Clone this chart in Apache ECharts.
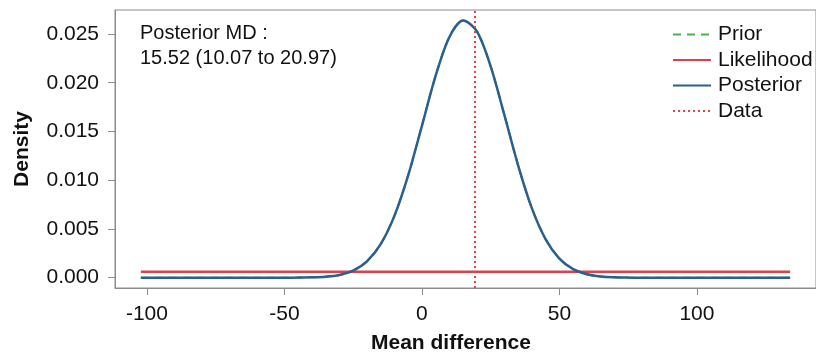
<!DOCTYPE html>
<html>
<head>
<meta charset="utf-8">
<script src="https://cdn.jsdelivr.net/npm/echarts@6/dist/echarts.min.js"></script>
<style>
html,body{margin:0;padding:0;background:#fff;}
#chart{width:816px;height:356px;}
</style>
</head>
<body>
<div id="chart"></div>
<script>
// Mean difference grid (x) and densities
const xValues = [-102.2, -50, -45, -40, -35, -30, -25, -20, -15, -10, -5, 0, 5, 10, 15, 20, 25, 30, 35, 40, 45, 50, 55, 60, 65, 70, 75, 80, 133.9];
const posteriorDensity = [0, 0.000002, 0.000009, 0.000031, 0.000099, 0.000282, 0.000724, 0.001666, 0.003433, 0.006342, 0.010497, 0.015578, 0.020719, 0.024695, 0.026384, 0.025264, 0.021683, 0.01668, 0.0115, 0.007107, 0.003936, 0.001954, 0.000869, 0.000347, 0.000124, 0.00004, 0.00001, 0.000002, 0];
const priorDensity = [0, 0.000002, 0.000009, 0.000031, 0.000099, 0.000282, 0.000724, 0.001666, 0.003433, 0.006342, 0.010497, 0.015578, 0.020719, 0.024695, 0.026384, 0.025264, 0.021683, 0.01668, 0.0115, 0.007107, 0.003936, 0.001954, 0.000869, 0.000347, 0.000124, 0.00004, 0.00001, 0.000002, 0];
const likelihoodX = [-102.2, 133.9];
const likelihoodDensity = [0.0006, 0.0006];
const dataMD = 19.3;
const xTicks = [-100, -50, 0, 50, 100];
const yTicks = [0, 0.005, 0.010, 0.015, 0.020, 0.025];
const xRange = [-111.6, 143.3];
const yRange = [-0.00106, 0.02746];
const seriesNames = ['Prior', 'Likelihood', 'Posterior', 'Data'];
const annotationLines = ['Posterior MD :', '15.52 (10.07 to 20.97)'];

const pair = (xs, ys) => xs.map((x, i) => [x, ys[i]]);

const FONT = '"Liberation Sans", Arial, sans-serif';
const chart = echarts.init(document.getElementById('chart'), null, {renderer: 'canvas'});
chart.setOption({
  animation: false,
  backgroundColor: '#ffffff',
  grid: {left: 115, top: 10, right: -3, bottom: 68, show: true, borderColor: '#8c8c8c', borderWidth: 1, backgroundColor: 'transparent'},
  legend: {
    data: seriesNames,
    orient: 'vertical',
    left: 667,
    top: 19,
    itemWidth: 38,
    itemHeight: 14,
    itemGap: 4.5,
    itemStyle: {opacity: 0},
    textStyle: {fontFamily: FONT, fontSize: 21, color: '#111', padding: [0, 0, 0, 2]},
    selectedMode: false
  },
  xAxis: {
    type: 'value',
    min: xRange[0],
    max: xRange[1],
    splitLine: {show: false},
    axisLine: {show: true, onZero: false, lineStyle: {color: '#8c8c8c', width: 1}},
    axisTick: {show: true, length: 7, customValues: xTicks, lineStyle: {color: '#8c8c8c'}},
    axisLabel: {customValues: xTicks, margin: 16, fontFamily: FONT, fontSize: 21, color: '#111'}
  },
  yAxis: {
    type: 'value',
    min: yRange[0],
    max: yRange[1],
    name: 'Density',
    nameLocation: 'middle',
    nameGap: 82,
    nameTextStyle: {fontFamily: FONT, fontSize: 21, fontWeight: 'bold', color: '#111'},
    splitLine: {show: false},
    axisLine: {show: true, onZero: false, lineStyle: {color: '#8c8c8c', width: 1}},
    axisTick: {show: true, length: 7, customValues: yTicks, lineStyle: {color: '#8c8c8c'}},
    axisLabel: {customValues: yTicks, margin: 16, fontFamily: FONT, fontSize: 21, color: '#111',
      formatter: v => v.toFixed(3)}
  },
  graphic: [
    {type: 'text', left: 140, top: 21, style: {text: annotationLines.join('\n'), font: '20px "Liberation Sans", Arial, sans-serif', fill: '#111', lineHeight: 25}},
    {type: 'text', left: 371, top: 333, style: {text: 'Mean difference', font: 'bold 21px "Liberation Sans", Arial, sans-serif', fill: '#111'}}
  ],
  series: [
    {name: 'Prior', type: 'line', data: pair(xValues, priorDensity), smooth: 0.3, showSymbol: false, symbol: 'none',
      lineStyle: {color: '#4cb04c', width: 2, type: [8, 6]}, itemStyle: {color: '#4cb04c'}, z: 2},
    {name: 'Likelihood', type: 'line', data: pair(likelihoodX, likelihoodDensity), showSymbol: false, symbol: 'none',
      lineStyle: {color: '#d9434b', width: 2.5}, itemStyle: {color: '#d9434b'}, z: 3},
    {name: 'Posterior', type: 'line', data: pair(xValues, posteriorDensity), smooth: 0.3, showSymbol: false, symbol: 'none',
      lineStyle: {color: '#2a5f8f', width: 2.5}, itemStyle: {color: '#2a5f8f'}, z: 4},
    {name: 'Data', type: 'line', data: [[dataMD, yRange[0]], [dataMD, yRange[1]]], showSymbol: false, symbol: 'none',
      lineStyle: {color: '#e0434b', width: 2, type: [2, 3]}, itemStyle: {color: '#b0303a'}, z: 5}
  ]
});
</script>
</body>
</html>
